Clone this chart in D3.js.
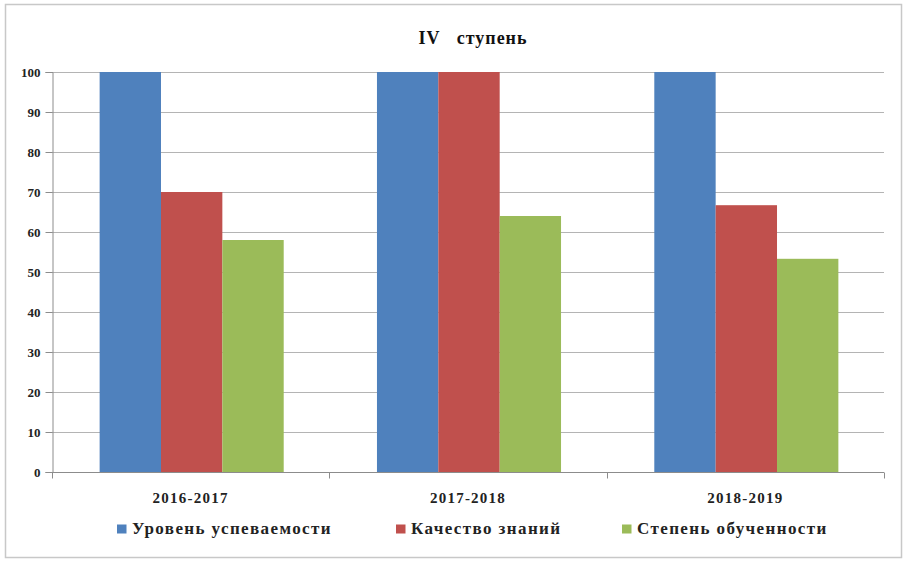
<!DOCTYPE html>
<html>
<head>
<meta charset="utf-8">
<script src="https://cdn.jsdelivr.net/npm/d3@7"></script>
<style>
  html, body { margin: 0; padding: 0; background: #fff; }
  svg { display: block; }
  svg text { font-family: "Liberation Serif", "Times New Roman", serif; font-weight: bold; }
</style>
</head>
<body>
<svg id="chart" width="906" height="562"></svg>
<script>
const categories = ["2016-2017", "2017-2018", "2018-2019"];
const seriesNames = ["Уровень успеваемости", "Качество знаний", "Степень обученности"];
const uspevaemost = [100, 100, 100];
const kachestvo = [70, 100, 66.7];
const obuchennost = [58, 64, 53.3];
const yTicks = [0, 10, 20, 30, 40, 50, 60, 70, 80, 90, 100];
const colors = ["#4F81BD", "#C0504D", "#9BBB59"];
const title = "IV   ступень";

const seriesValues = [uspevaemost, kachestvo, obuchennost];

const svg = d3.select("#chart");

svg.append("rect")
  .attr("x", 5.5).attr("y", 4.5).attr("width", 896).attr("height", 553)
  .attr("fill", "#fff").attr("stroke", "#c8c8c8").attr("stroke-width", 1.5);

const plotL = 52, plotR = 884, plotT = 72, plotB = 472;

const y = d3.scaleLinear().domain([0, 100]).range([plotB, plotT]);
const x0 = d3.scaleBand().domain(categories).range([plotL, plotR]).padding(0);
const x1 = d3.scaleBand().domain(seriesNames).range([1, x0.bandwidth() + 1])
  .paddingInner(0).paddingOuter(0.76);

svg.append("g").selectAll("line").data(yTicks.filter(d => d > 0)).join("line")
  .attr("x1", plotL).attr("x2", plotR)
  .attr("y1", d => Math.round(y(d)) + 0.5).attr("y2", d => Math.round(y(d)) + 0.5)
  .attr("stroke", "#b4b4b4").attr("stroke-width", 1);

const groups = svg.append("g").selectAll("g").data(categories).join("g")
  .attr("transform", d => `translate(${x0(d)},0)`);
groups.selectAll("rect")
  .data((c, i) => seriesNames.map((s, k) => ({ s, k, v: seriesValues[k][i] })))
  .join("rect")
  .attr("x", d => x1(d.s))
  .attr("width", x1.bandwidth())
  .attr("y", d => y(d.v))
  .attr("height", d => y(0) - y(d.v))
  .attr("fill", d => colors[d.k]);

const yAxis = d3.axisLeft(y).tickValues(yTicks).tickSize(7).tickPadding(5);
const gy = svg.append("g").attr("transform", `translate(${plotL + 0.5},0)`).call(yAxis);
gy.attr("font-family", null);
gy.select(".domain").attr("stroke", "#8c8c8c");
gy.selectAll(".tick line").attr("stroke", "#8c8c8c");
gy.selectAll(".tick text")
  .attr("font-size", 13)
  .attr("fill", "#222");

const gx = svg.append("g").attr("transform", `translate(0,${plotB + 0.5})`);
gx.append("line").attr("x1", plotL).attr("x2", plotR).attr("stroke", "#8c8c8c");
const bounds = [plotL].concat(categories.map(c => x0(c) + x0.bandwidth()));
gx.selectAll("line.t").data(bounds).join("line").attr("class", "t")
  .attr("x1", d => Math.round(d) + 0.5).attr("x2", d => Math.round(d) + 0.5)
  .attr("y1", 0).attr("y2", 6).attr("stroke", "#8c8c8c");
gx.selectAll("text").data(categories).join("text")
  .attr("x", d => x0(d) + x0.bandwidth() / 2)
  .attr("y", 30.5)
  .attr("text-anchor", "middle")
  .attr("font-size", 15)
  .attr("letter-spacing", 1.25)
  .attr("fill", "#222")
  .text(d => d);

svg.append("text")
  .attr("x", 473).attr("y", 44)
  .attr("text-anchor", "middle")
  .attr("font-size", 18)
  .attr("letter-spacing", 1)
  .attr("fill", "#111")
  .style("white-space", "pre")
  .text(title);

const legendX = [117, 396, 622];
const lg = svg.append("g").selectAll("g").data(seriesNames).join("g")
  .attr("transform", (d, i) => `translate(${legendX[i]},534)`);
lg.append("rect").attr("x", 0).attr("y", -9.5).attr("width", 9.5).attr("height", 9)
  .attr("fill", (d, i) => colors[i]);
lg.append("text").attr("x", 15).attr("y", 0)
  .attr("font-size", 17)
  .attr("letter-spacing", 1.4)
  .attr("fill", "#222")
  .text(d => d);
</script>
</body>
</html>
